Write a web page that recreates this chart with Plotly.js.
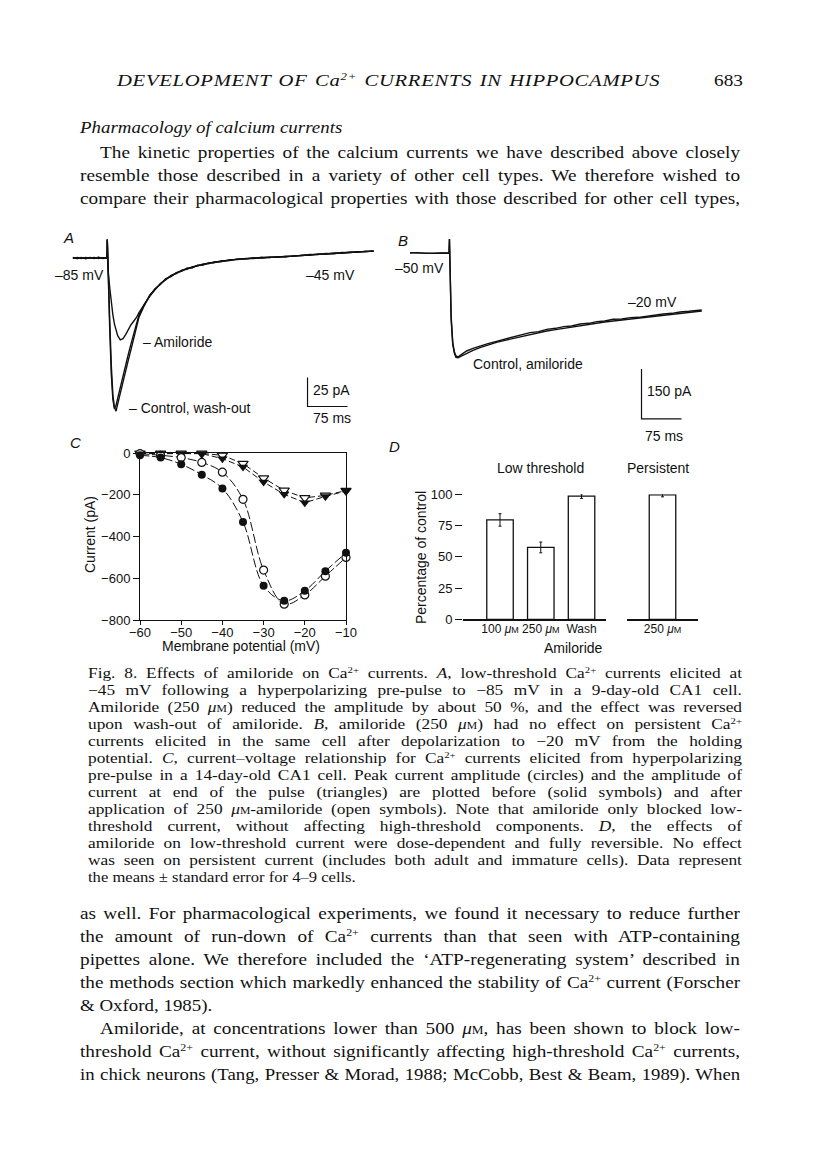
<!DOCTYPE html>
<html>
<head>
<meta charset="utf-8">
<script src="https://cdn.plot.ly/plotly-3.0.1.min.js"></script>
<style>
  body { margin: 0; background: #fff; }
  #page { position: relative; width: 816px; height: 1167px; overflow: hidden; }
  #fig { position: absolute; left: 0; top: 0; width: 816px; height: 1167px; }
  .ln { position: absolute; font-family: 'Liberation Serif', serif; color: #111; white-space: nowrap; transform-origin: left center; }
  .ln sup { font-size: 0.62em; line-height: 0; vertical-align: 0.55em; }
  .sc { font-variant: small-caps; }
</style>
</head>
<body>
<div id="page"><div id="fig"></div></div>
<script>
// ---- panel A: low-threshold current at -45 mV (ms, pA) ----
const tA = [-64,-56,-48,-40,-32,-24,-16,-8,-1, 0,0.5,2,5,8,11,14,17,20,
  25,30,35,40,45,50,55,60, 70,80,90,100,110,120,130,140,150,160,170,180,190,200,
  215,230,245,260,275,290,305,320,335,350,365,380,395,410,425,440,455,470,485,500];
const iControl = [0.5,-0.5,0.3,-0.6,0.4,-0.3,0.6,-0.4,0.2, 0,16,-15,-60,-100,-122,-130,-127,-121,
  -111,-102,-92,-83,-74,-65,-56,-49, -40,-33,-27.5,-22,-19,-15,-13.5,-10.5,-9.8,-7.5,-7,-5.2,-5,-3.5,
  -3,-1.5,-1.4,-0.3,-0.4,0.6,0.3,1.2,0.9,2,1.9,3,2.9,3.9,3.7,4.7,4.5,5.5,5.3,6.2];
const iWash = [-0.3,0.4,-0.5,0.5,-0.2,0.5,-0.5,0.3,-0.2, 0,16,-12,-52,-92,-118,-129,-132,-126,
  -116,-107,-97,-88,-79,-70,-60,-51, -41,-32,-27,-22.8,-18,-16,-12.6,-11.4,-8.8,-8.4,-6.2,-6,-4.2,-4.1,
  -2.4,-2.1,-0.8,-0.9,0.2,0,0.9,0.6,1.5,1.4,2.5,2.4,3.5,3.3,4.3,4.1,5.1,4.9,5.9,5.7];
const iAmiloride = [0.2,-0.4,0.5,-0.3,0.3,-0.5,0.4,-0.2,0.4, 0,16,-10,-25,-38,-49,-57,-63,-67,
  -70.5,-69.5,-66,-61,-57.5,-54.5,-51.5,-47, -39.5,-32.8,-26.5,-22.8,-18.2,-15.8,-12.8,-11.2,-9,-8.2,-6.4,-5.8,-4.4,-3.9,
  -2.6,-1.9,-1,-0.7,0,0.2,0.8,0.8,1.4,1.6,2.3,2.6,3.3,3.5,4.1,4.3,4.9,5.1,5.7,5.9];
const scaleA = [25, 75];   // pA, ms

// ---- panel B: persistent current at -20 mV (ms, pA) ----
const tB = [-73,-60,-45,-30,-15,-1, 0,0.8,2,4,7,10,13,17,21,27,33,45,58,73,89,105,121,137,152,168,183,
  200,215,230,246,262,277,292,308,324,340,355,371,387,402,418,433,450,464,474];
const iBControl = [0,1,-1,0,1,0, 0,42,-60,-200,-275,-300,-313,-314,-311,-306,-301,-292,-284,-276,-268,-262,-256,-250,-244,-239,-234,
  -230,-226,-222,-218,-214,-211,-207,-204,-201,-199,-196,-194,-190,-187,-184,-181,-178,-176,-174];
const iBAmiloride = [1,0,0,-1,0,1, 0,42,-50,-190,-268,-296,-309,-312,-307,-300,-294,-286,-279,-272,-265,-258,-251,-246,-239,-236,-229,
  -226,-221,-219,-213,-211,-206,-204,-199,-198,-194,-193,-189,-187,-183,-181,-177,-175,-172,-171];
const scaleB = [150, 75];  // pA, ms

// ---- panel C: I-V relationship ----
const vm = [-60,-55,-50,-45,-40,-35,-30,-25,-20,-15,-10];
const peakBefore = [-11,-22,-54,-104,-170,-330,-636,-708,-660,-566,-478];
const peakAfter = [-3,-11,-22,-45,-92,-222,-561,-724,-680,-590,-500];
const endBefore = [-3,-3,-3,-3,-27,-67,-139,-198,-238,-208,-182];
const endAfter = [-2,-2,-2,-2,-11,-51,-120,-179,-215,-203,-180];

// ---- panel D: percentage of control ----
const lowCats = ['100 uM', '250 uM', 'Wash'];
const lowLabels = ['100 <i>μ</i><span style="font-size:9px">M</span>', '250 <i>μ</i><span style="font-size:9px">M</span>', 'Wash'];
const lowVals = [79.5, 57.5, 98.5];
const lowErr = [5, 4.3, 1.8];
const persCats = ['250 uM'];
const persLabels = ['250 <i>μ</i><span style="font-size:9px">M</span>'];
const persVals = [99.5];
const persErr = [1.5];

// ---- page text ----
const header = 'DEVELOPMENT OF Ca<sup>2+</sup> CURRENTS IN HIPPOCAMPUS';
const uM = '<i>μ</i><span class="sc">m</span>';
const topLines = [
  'The kinetic properties of the calcium currents we have described above closely',
  'resemble those described in a variety of other cell types. We therefore wished to',
  'compare their pharmacological properties with those described for other cell types,'
];
const captionLines = [
  'Fig. 8. Effects of amiloride on Ca<sup>2+</sup> currents. <i>A</i>, low-threshold Ca<sup>2+</sup> currents elicited at',
  '−45 mV following a hyperpolarizing pre-pulse to −85 mV in a 9-day-old CA1 cell.',
  'Amiloride (250 ' + uM + ') reduced the amplitude by about 50 %, and the effect was reversed',
  'upon wash-out of amiloride. <i>B</i>, amiloride (250 ' + uM + ') had no effect on persistent Ca<sup>2+</sup>',
  'currents elicited in the same cell after depolarization to −20 mV from the holding',
  'potential. <i>C</i>, current–voltage relationship for Ca<sup>2+</sup> currents elicited from hyperpolarizing',
  'pre-pulse in a 14-day-old CA1 cell. Peak current amplitude (circles) and the amplitude of',
  'current at end of the pulse (triangles) are plotted before (solid symbols) and after',
  'application of 250 ' + uM + '-amiloride (open symbols). Note that amiloride only blocked low-',
  'threshold current, without affecting high-threshold components. <i>D</i>, the effects of',
  'amiloride on low-threshold current were dose-dependent and fully reversible. No effect',
  'was seen on persistent current (includes both adult and immature cells). Data represent',
  'the means ± standard error for 4–9 cells.'
];
const bottomLines = [
  'as well. For pharmacological experiments, we found it necessary to reduce further',
  'the amount of run-down of Ca<sup>2+</sup> currents than that seen with ATP-containing',
  'pipettes alone. We therefore included the ‘ATP-regenerating system’ described in',
  'the methods section which markedly enhanced the stability of Ca<sup>2+</sup> current (Forscher',
  '& Oxford, 1985).',
  'Amiloride, at concentrations lower than 500 ' + uM + ', has been shown to block low-',
  'threshold Ca<sup>2+</sup> current, without significantly affecting high-threshold Ca<sup>2+</sup> currents,',
  'in chick neurons (Tang, Presser & Morad, 1988; McCobb, Best & Beam, 1989). When'
];

// page pixel -> paper fraction
const W = 816, H = 1167;
const fx = p => p / W;
const fy = p => 1 - p / H;

const ink = '#111';
const lineStyle = { color: ink, width: 1.4 };

const data = [
  // A
  { x: tA, y: iWash, xaxis: 'x', yaxis: 'y', mode: 'lines', line: lineStyle },
  { x: tA, y: iControl, xaxis: 'x', yaxis: 'y', mode: 'lines', line: lineStyle },
  { x: tA, y: iAmiloride, xaxis: 'x', yaxis: 'y', mode: 'lines', line: lineStyle },
  { x: [376, 376, 376 + scaleA[1]], y: [-128 + scaleA[0], -128, -128], xaxis: 'x', yaxis: 'y',
    mode: 'lines', line: { color: ink, width: 1.2 } },
  // B
  { x: tB, y: iBControl, xaxis: 'x2', yaxis: 'y2', mode: 'lines', line: lineStyle },
  { x: tB, y: iBAmiloride, xaxis: 'x2', yaxis: 'y2', mode: 'lines', line: lineStyle },
  { x: [361, 361, 361 + scaleB[1]], y: [-498 + scaleB[0], -498, -498], xaxis: 'x2', yaxis: 'y2',
    mode: 'lines', line: { color: ink, width: 1.2 } },
  // C
  { x: vm, y: endAfter, xaxis: 'x3', yaxis: 'y3', mode: 'lines+markers', cliponaxis: false,
    line: { color: ink, width: 1, dash: '6px,3px' },
    marker: { symbol: 'triangle-down', size: 9, color: 'white', line: { color: ink, width: 1.2 } } },
  { x: vm, y: endBefore, xaxis: 'x3', yaxis: 'y3', mode: 'lines+markers', cliponaxis: false,
    line: { color: ink, width: 1, dash: '6px,3px' },
    marker: { symbol: 'triangle-down', size: 9, color: ink } },
  { x: vm, y: peakAfter, xaxis: 'x3', yaxis: 'y3', mode: 'lines+markers', cliponaxis: false,
    line: { color: ink, width: 1, dash: '9px,3px', shape: 'spline', smoothing: 1 },
    marker: { symbol: 'circle', size: 8, color: 'white', line: { color: ink, width: 1.2 } } },
  { x: vm, y: peakBefore, xaxis: 'x3', yaxis: 'y3', mode: 'lines+markers', cliponaxis: false,
    line: { color: ink, width: 1, dash: '9px,3px', shape: 'spline', smoothing: 1 },
    marker: { symbol: 'circle', size: 8, color: ink } },
  // D
  { type: 'bar', x: lowCats, y: lowVals, xaxis: 'x4', yaxis: 'y4', width: 0.65, cliponaxis: false,
    marker: { color: 'white', line: { color: ink, width: 1.3 } },
    error_y: { type: 'data', array: lowErr, visible: true, color: ink, thickness: 1, width: 1.5 } },
  { type: 'bar', x: persCats, y: persVals, xaxis: 'x5', yaxis: 'y4', width: 0.65, cliponaxis: false,
    marker: { color: 'white', line: { color: ink, width: 1.3 } },
    error_y: { type: 'data', array: persErr, visible: true, color: ink, thickness: 1, width: 1.5 } }
];

const sans = 'Liberation Sans, Arial, sans-serif';
const tickFont = { family: sans, size: 13, color: ink };
const barTickFont = { family: sans, size: 12, color: ink };
const hidden = { visible: false, fixedrange: true };

function ann(text, x, y, extra) {
  return Object.assign({ text: text, x: fx(x), y: fy(y), xref: 'paper', yref: 'paper',
    showarrow: false, xanchor: 'center', yanchor: 'middle',
    font: { family: sans, size: 14, color: ink } }, extra || {});
}
const panelFont = { family: sans, size: 15, color: ink };

const layout = {
  width: W, height: H,
  margin: { l: 0, r: 0, t: 0, b: 0 },
  paper_bgcolor: 'white', plot_bgcolor: 'rgba(0,0,0,0)',
  showlegend: false,
  font: tickFont,
  xaxis: Object.assign({ domain: [fx(59), fx(379)], range: [-90, 510], anchor: 'y' }, hidden),
  yaxis: Object.assign({ domain: [fy(426.2), fy(234.8)], range: [-145, 20], anchor: 'x' }, hidden),
  xaxis2: Object.assign({ domain: [fx(395.7), fx(710.3)], range: [-100, 490], anchor: 'y2' }, hidden),
  yaxis2: Object.assign({ domain: [fy(426.3), fy(233)], range: [-520, 60], anchor: 'x2' }, hidden),
  xaxis3: {
    domain: [fx(140), fx(346)], range: [-60, -10], anchor: 'y3',
    tickvals: vm.filter(v => v % 10 === 0), ticks: 'outside', ticklen: 4, tickwidth: 1, tickcolor: ink,
    ticklabelstandoff: -4,
    showline: true, linecolor: ink, linewidth: 1, mirror: true, showgrid: false, zeroline: false,
    tickfont: tickFont
  },
  yaxis3: {
    domain: [fy(620), fy(453)], range: [-800, 0], anchor: 'x3',
    tickvals: [0, -200, -400, -600, -800], ticks: 'outside', ticklen: 6, tickwidth: 1, tickcolor: ink,
    ticklabelstandoff: 0,
    showline: true, linecolor: ink, linewidth: 1, mirror: true, showgrid: false, zeroline: false,
    tickfont: tickFont
  },
  xaxis4: {
    domain: [fx(463), fx(606)], type: 'category', range: [-0.908, 2.6], anchor: 'y4',
    tickvals: lowCats, ticktext: lowLabels, tickangle: 0, ticks: '', ticklabelstandoff: -2,
    showline: true, linecolor: ink, linewidth: 1.2,
    showgrid: false, zeroline: false, tickfont: barTickFont
  },
  xaxis5: {
    domain: [fx(627), fx(698)], type: 'category', range: [-0.87, 0.87], anchor: 'y4',
    tickvals: persCats, ticktext: persLabels, tickangle: 0, ticks: '', ticklabelstandoff: -2,
    showline: true, linecolor: ink, linewidth: 1.2,
    showgrid: false, zeroline: false, tickfont: barTickFont
  },
  yaxis4: {
    domain: [fy(619.3), fy(494.3)], range: [0, 100], anchor: 'x4',
    tickvals: [0, 25, 50, 75, 100], ticks: 'outside', ticklen: 7, tickwidth: 1, tickcolor: ink,
    showline: false, showgrid: false, zeroline: false, tickfont: tickFont
  },
  annotations: [
    ann('<i>A</i>', 68, 237, { font: panelFont }),
    ann('–85 mV', 79, 275),
    ann('–45 mV', 330, 275),
    ann('– Amiloride', 141, 342, { xanchor: 'left' }),
    ann('– Control, wash-out', 127, 408, { xanchor: 'left' }),
    ann('25 pA', 311, 390, { xanchor: 'left' }),
    ann('75 ms', 311, 418, { xanchor: 'left' }),
    ann('<i>B</i>', 403, 240, { font: panelFont }),
    ann('–50 mV', 420, 268),
    ann('–20 mV', 652, 302),
    ann('Control, amiloride', 528, 364),
    ann('150 pA', 645, 391, { xanchor: 'left' }),
    ann('75 ms', 643, 436, { xanchor: 'left' }),
    ann('<i>C</i>', 75, 442, { font: panelFont }),
    ann('Current (pA)', 90, 535, { textangle: -90 }),
    ann('Membrane potential (mV)', 241, 646),
    ann('<i>D</i>', 394, 446, { font: panelFont }),
    ann('Percentage of control', 421, 558, { textangle: -90 }),
    ann('Low threshold', 540, 468),
    ann('Persistent', 658, 468),
    ann('Amiloride', 573, 648)
  ]
};

Plotly.newPlot('fig', data, layout, { displayModeBar: false, staticPlot: true });

// ---- page text: one block per printed line, stretched to the column like the print ----
const page = document.getElementById('page');
function addLine(html, x0, x1, yc, size, lh, opts) {
  opts = opts || {};
  const d = document.createElement('div');
  d.className = 'ln';
  d.style.left = x0 + 'px';
  d.style.top = (yc - lh / 2) + 'px';
  d.style.fontSize = size + 'px';
  d.style.lineHeight = lh + 'px';
  if (opts.italic) d.style.fontStyle = 'italic';
  if (opts.spacing) d.style.letterSpacing = opts.spacing + 'px';
  const s = document.createElement('span');
  s.innerHTML = html;
  d.appendChild(s);
  page.appendChild(d);
  const target = x1 - x0;
  const nSpaces = (s.textContent.match(/ /g) || []).length;
  const w0 = s.getBoundingClientRect().width;
  let k;
  if (opts.left) k = opts.scale || 1.08;
  else k = Math.max(Math.min(opts.maxScale || 1.1, target * 0.985 / w0), Math.min(1, target / w0));
  d.style.transform = 'scaleX(' + k.toFixed(3) + ')';
  if (opts.left || nSpaces === 0) return;
  s.style.wordSpacing = ((target / k - w0) / nSpaces).toFixed(2) + 'px';
}

function layoutText() {
  addLine(header, 117, 660, 80, 17.5, 20, { italic: true, maxScale: 1.22, spacing: 0.6 });
  addLine('683', 714, 742, 80, 17.5, 20, { left: true, scale: 1.1 });
  addLine('Pharmacology of calcium currents', 80, 500, 127, 17.5, 20, { italic: true, left: true, scale: 1.08 });
  topLines.forEach((t, i) => addLine(t, i === 0 ? 100 : 80, 740, 152 + i * 23, 17.5, 20));
  captionLines.forEach((t, i) => addLine(t, 88, 742, 673 + i * 17, 14.8, 17,
    { left: i === captionLines.length - 1, scale: 1.12, maxScale: 1.17 }));
  bottomLines.forEach((t, i) => addLine(t, i === 5 ? 100 : 80, 740, 913 + i * 23, 17.5, 20, { left: i === 4, scale: 1.08 }));
}
if (document.fonts && document.fonts.ready) document.fonts.ready.then(layoutText); else layoutText();
</script>
</body>
</html>
